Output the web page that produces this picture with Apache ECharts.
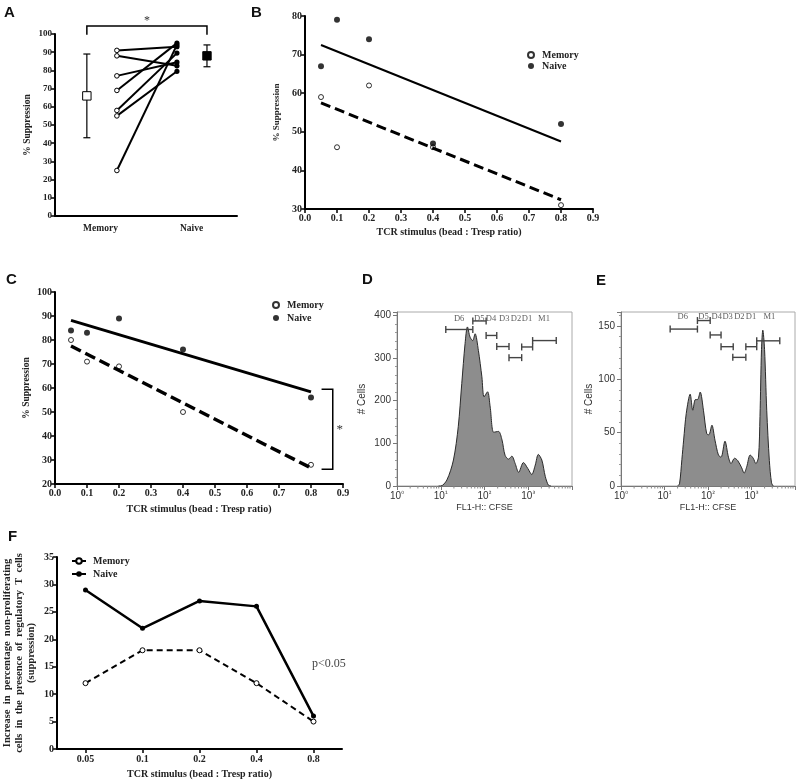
<!DOCTYPE html>
<html><head><meta charset="utf-8">
<script src="https://cdn.jsdelivr.net/npm/echarts@6/dist/echarts.min.js"></script>
<style>html,body{margin:0;padding:0;background:#fff}#c{width:800px;height:783px}</style>
</head><body><div id="c"></div>
<script>
// ---------- Panel A : paired % suppression ----------
const aCategories = ['Memory', 'Naive'];
const aPairMemory = [91, 88, 77, 69, 58, 55, 25];
const aPairNaive  = [93, 82.5, 84.5, 95, 89.5, 79.5, 94];
const aMean = [66, 88];
const aLow  = [43, 82];
const aHigh = [89, 94];

// ---------- Panel B ----------
const bDoses = [0.05, 0.1, 0.2, 0.4, 0.8];
const bMemory = [59, 46, 62, 46, 31];
const bNaive  = [67, 79, 74, 47, 52];
const bFitX = [0.05, 0.8];
const bMemoryFit = [57.5, 32.4];
const bNaiveFit  = [72.5, 47.5];

// ---------- Panel C ----------
const cDoses = [0.05, 0.1, 0.2, 0.4, 0.8];
const cMemory = [80, 71, 69, 50, 28];
const cNaive  = [84, 83, 89, 76, 56];
const cFitX = [0.05, 0.8];
const cMemoryFit = [77.5, 26.7];
const cNaiveFit  = [88.2, 58.4];

// ---------- Panel D : CFSE histogram (log10 FL1-H, # cells) ----------
const dLogCfse = [0.95, 1.0, 1.14, 1.29, 1.40, 1.48, 1.556, 1.61, 1.67, 1.73, 1.785, 1.86, 1.94, 1.99, 2.07, 2.13, 2.21, 2.32, 2.40, 2.47, 2.55, 2.625, 2.70, 2.78, 2.89, 2.99, 3.08, 3.16, 3.23, 3.31, 3.39, 3.46, 3.52];
const dCells   = [0, 0, 14, 61, 139, 240, 334, 373, 349, 341, 357, 318, 256, 209, 221, 185, 126, 128, 108, 72, 63, 70, 53, 32, 55, 41, 27, 49, 74, 61, 22, 2, 0];
const dGateNames = ['D6', 'D5', 'D4', 'D3', 'D2', 'D1', 'M1'];
const dGateFrom  = [1.115, 1.733, 2.037, 2.28, 2.56, 2.85, 3.10];
const dGateTo    = [1.733, 2.037, 2.28, 2.56, 2.85, 3.10, 3.64];
const dGateLevel = [367, 387, 353, 327, 301, 326, 341];
const dLabelLog  = [1.42, 1.88, 2.15, 2.45, 2.72, 2.97, 3.36];
const dLabelLevel = 392;

// ---------- Panel E ----------
const eLogCfse = [1.30, 1.345, 1.40, 1.44, 1.50, 1.59, 1.65, 1.71, 1.76, 1.82, 1.895, 1.97, 2.02, 2.09, 2.16, 2.24, 2.30, 2.39, 2.47, 2.53, 2.61, 2.68, 2.775, 2.83, 2.89, 2.97, 3.04, 3.10, 3.16, 3.195, 3.23, 3.26, 3.30, 3.35, 3.41, 3.46, 3.50];
const eCells   = [0, 2, 25, 43, 68, 86, 71, 81, 81, 88, 71, 49, 48, 57, 43, 29, 27, 42, 27, 21, 26, 24, 17, 12, 18, 29, 26, 21, 27, 65, 128, 146, 128, 71, 24, 3, 0];
const eGateNames = ['D6', 'D5', 'D4', 'D3', 'D2', 'D1', 'M1'];
const eGateFrom  = [1.13, 1.757, 2.05, 2.30, 2.57, 2.87, 3.12];
const eGateTo    = [1.757, 2.05, 2.30, 2.58, 2.87, 3.12, 3.65];
const eGateLevel = [147, 155, 141.5, 130.5, 120.5, 130.5, 136];
const eLabelLog  = [1.42, 1.895, 2.2, 2.45, 2.72, 2.99, 3.41];
const eLabelLevel = 159;

// ---------- Panel F ----------
const fCategories = ['0.05', '0.1', '0.2', '0.4', '0.8'];
const fMemory = [12, 18, 18, 12, 5];
const fNaive  = [29, 22, 27, 26, 6];

const SERIF = 'Liberation Serif';
const SANS = 'Liberation Sans';
const SUP = ['\u2070', '\u00b9', '\u00b2', '\u00b3'];

function boldAxisY(grid, min, max, interval, name, nameGap, fs, lfs) {
  return {
    type: 'value', gridIndex: grid, min: min, max: max, interval: interval,
    name: name, nameLocation: 'middle', nameGap: nameGap, nameRotate: 90,
    nameTextStyle: {fontFamily: SERIF, fontWeight: 'bold', fontSize: fs || 9.5, color: '#222', lineHeight: 12},
    axisLine: {show: true, lineStyle: {color: '#000', width: 2}},
    axisTick: {show: true, length: 4, lineStyle: {color: '#000', width: 1.5}},
    axisLabel: {fontFamily: SERIF, fontWeight: 'bold', fontSize: lfs || 10, color: '#222', margin: 3},
    splitLine: {show: false}
  };
}
function valueAxisX(grid, name) {
  return {
    type: 'value', gridIndex: grid, min: 0, max: 0.9, interval: 0.1,
    name: name, nameLocation: 'middle', nameGap: 18,
    nameTextStyle: {fontFamily: SERIF, fontWeight: 'bold', fontSize: 10, color: '#222'},
    axisLine: {show: true, onZero: false, lineStyle: {color: '#000', width: 2}},
    axisTick: {show: true, length: 4, lineStyle: {color: '#000', width: 1.5}},
    axisLabel: {fontFamily: SERIF, fontWeight: 'bold', fontSize: 10, color: '#222', margin: 4,
      formatter: v => v.toFixed(1)},
    splitLine: {show: false}
  };
}
function facsX(grid) {
  return {
    type: 'value', gridIndex: grid, min: 0, max: 4, interval: 1,
    name: 'FL1-H:: CFSE', nameLocation: 'middle', nameGap: 17,
    nameTextStyle: {fontFamily: SANS, fontSize: 9, color: '#333'},
    axisLine: {show: true, onZero: false, lineStyle: {color: '#777', width: 1}},
    axisTick: {show: true, length: 4, lineStyle: {color: '#777'}},
    axisLabel: {margin: 5, formatter: v => v < 4 ? '{b|10}{s|' + SUP[v] + '}' : '',
      rich: {b: {fontFamily: SANS, fontSize: 10, color: '#333'}, s: {fontFamily: 'DejaVu Sans', fontSize: 7, color: '#333', verticalAlign: 'top'}}},
    splitLine: {show: false}
  };
}
function facsY(grid, max, interval, nameGap) {
  return {
    type: 'value', gridIndex: grid, min: 0, max: max, interval: interval,
    name: '# Cells', nameLocation: 'middle', nameGap: nameGap, nameRotate: 90,
    nameTextStyle: {fontFamily: SANS, fontSize: 10, color: '#333'},
    axisLine: {show: true, lineStyle: {color: '#777', width: 1}},
    axisTick: {show: true, length: 4, lineStyle: {color: '#777'}},
    minorTick: {show: true, splitNumber: 5, length: 2, lineStyle: {color: '#999'}},
    axisLabel: {fontFamily: SANS, fontSize: 10, color: '#333', margin: 6,
      formatter: v => (v % interval === 0 ? v : '')},
    splitLine: {show: false}
  };
}

const chart = echarts.init(document.getElementById('c'), null, {renderer: 'canvas'});

// Panel A renderers
const A_OFF = {memSummary: -0.15, memPair: 0.18, naivePair: -0.16, naiveSummary: 0.17};
function pairRender(params, api) {
  const p0 = api.coord([0, api.value(1)]);
  const p1 = api.coord([1, api.value(2)]);
  const band = api.size([1, 0])[0];
  const x0 = p0[0] + A_OFF.memPair * band;
  const x1 = p1[0] + A_OFF.naivePair * band;
  return {type: 'group', children: [
    {type: 'line', shape: {x1: x0, y1: p0[1], x2: x1, y2: p1[1]}, style: {stroke: '#000', lineWidth: 2}},
    {type: 'circle', shape: {cx: x0, cy: p0[1], r: 2.3}, style: {fill: '#fff', stroke: '#000', lineWidth: 1}},
    {type: 'circle', shape: {cx: x1, cy: p1[1], r: 2.6}, style: {fill: '#000'}}
  ]};
}
function summaryRender(params, api) {
  const idx = api.value(0);
  const band = api.size([1, 0])[0];
  const off = idx === 0 ? A_OFF.memSummary : A_OFF.naiveSummary;
  const pm = api.coord([idx, api.value(1)]);
  const pl = api.coord([idx, api.value(2)]);
  const ph = api.coord([idx, api.value(3)]);
  const x = pm[0] + off * band;
  const cap = 3.5, half = 4.2;
  const st = {stroke: '#000', lineWidth: 1.2};
  return {type: 'group', children: [
    {type: 'line', shape: {x1: x, y1: pl[1], x2: x, y2: ph[1]}, style: st},
    {type: 'line', shape: {x1: x - cap, y1: pl[1], x2: x + cap, y2: pl[1]}, style: st},
    {type: 'line', shape: {x1: x - cap, y1: ph[1], x2: x + cap, y2: ph[1]}, style: st},
    {type: 'rect', shape: {x: x - half, y: pm[1] - half, width: 2 * half, height: 2 * half},
      style: {fill: idx === 0 ? '#fff' : '#000', stroke: '#000', lineWidth: 1}}
  ]};
}
function bracketARender(params, api) {
  const band = api.size([1, 0])[0];
  const l = api.coord([0, 104.4]);
  const r = api.coord([1, 104.4]);
  const lb = api.coord([0, 99.6]);
  const xl = l[0] + A_OFF.memSummary * band;
  const xr = r[0] + A_OFF.naiveSummary * band;
  const st = {stroke: '#000', lineWidth: 1.5, fill: null};
  return {type: 'group', children: [
    {type: 'polyline', shape: {points: [[xl, lb[1]], [xl, l[1]], [xr, l[1]], [xr, lb[1]]]}, style: st},
    {type: 'text', x: (xl + xr) / 2, y: l[1] + 1, style: {text: '*', font: '12px ' + SERIF, fill: '#333', textAlign: 'center', textVerticalAlign: 'bottom'}}
  ]};
}
function bracketCRender(params, api) {
  const t = api.coord([0.833, 59.5]);
  const tr = api.coord([0.868, 59.5]);
  const b = api.coord([0.833, 26.1]);
  const br = api.coord([0.868, 26.1]);
  return {type: 'group', children: [
    {type: 'polyline', shape: {points: [[t[0], t[1]], [tr[0], tr[1]], [br[0], br[1]], [b[0], b[1]]]}, style: {stroke: '#000', lineWidth: 1.5, fill: null}},
    {type: 'text', x: tr[0] + 7, y: (t[1] + b[1]) / 2, style: {text: '*', font: '13px ' + SERIF, fill: '#333', textAlign: 'center', textVerticalAlign: 'middle'}}
  ]};
}
function gateRender(params, api) {
  const a = api.coord([api.value(0), api.value(2)]);
  const b = api.coord([api.value(1), api.value(2)]);
  const h = 3.5;
  const st = {stroke: '#444', lineWidth: 1.4};
  return {type: 'group', children: [
    {type: 'line', shape: {x1: a[0], y1: a[1], x2: b[0], y2: b[1]}, style: st},
    {type: 'line', shape: {x1: a[0], y1: a[1] - h, x2: a[0], y2: a[1] + h}, style: st},
    {type: 'line', shape: {x1: b[0], y1: b[1] - h, x2: b[0], y2: b[1] + h}, style: st}
  ]};
}
function logMinorRender(params, api) {
  const d = api.value(0);
  const kids = [];
  for (let k = 2; k <= 9; k++) {
    const p = api.coord([d + Math.log10(k), 0]);
    kids.push({type: 'line', shape: {x1: p[0], y1: p[1], x2: p[0], y2: p[1] + 2.5}, style: {stroke: '#888', lineWidth: 1}});
  }
  return {type: 'group', children: kids};
}

function facsSeries(grid, logs, cells, gFrom, gTo, gLevel, names, labLog, labLevel) {
  return [
    {type: 'line', xAxisIndex: grid, yAxisIndex: grid, data: logs.map((x, i) => [x, cells[i]]),
      smooth: 0.3, symbol: 'none', lineStyle: {color: '#2a2a2a', width: 1},
      areaStyle: {color: '#8d8d8d', opacity: 1}, silent: true, z: 2},
    {type: 'custom', xAxisIndex: grid, yAxisIndex: grid, renderItem: gateRender,
      data: gFrom.map((f, i) => [f, gTo[i], gLevel[i]]), encode: {x: [0, 1], y: 2}, z: 3, silent: true},
    {type: 'scatter', xAxisIndex: grid, yAxisIndex: grid, symbolSize: 0, silent: true,
      data: names.map((n, i) => ({value: [labLog[i], labLevel], name: n})),
      label: {show: true, position: 'inside', formatter: p => p.name, fontFamily: SERIF, fontSize: 8.5, color: '#333'}},
    {type: 'custom', xAxisIndex: grid, yAxisIndex: grid, renderItem: logMinorRender,
      data: [[0, 0], [1, 0], [2, 0], [3, 0]], encode: {x: 0, y: 1}, silent: true}
  ];
}

const legendText = {fontFamily: SERIF, fontWeight: 'bold', fontSize: 10, color: '#222'};

const option = {
  animation: false,
  backgroundColor: '#fff',
  grid: [
    {left: 55, top: 34, width: 182, height: 182},
    {left: 305, top: 16, width: 288, height: 193},
    {left: 55, top: 292, width: 288, height: 192},
    {left: 397, top: 312, width: 175, height: 174, show: true, borderColor: '#aaa', borderWidth: 1},
    {left: 621, top: 312, width: 174, height: 174, show: true, borderColor: '#aaa', borderWidth: 1},
    {left: 54, top: 557, width: 288, height: 192}
  ],
  xAxis: [
    {type: 'category', gridIndex: 0, data: aCategories,
      axisLine: {lineStyle: {color: '#000', width: 2}}, axisTick: {show: false},
      axisLabel: {fontFamily: SERIF, fontWeight: 'bold', fontSize: 9.5, color: '#222', margin: 8}},
    valueAxisX(1, 'TCR stimulus (bead : Tresp ratio)'),
    Object.assign(valueAxisX(2, 'TCR stimulus (bead : Tresp ratio)'), {nameGap: 20}),
    facsX(3),
    facsX(4),
    {type: 'category', gridIndex: 5, data: fCategories, boundaryGap: true,
      name: 'TCR stimulus (bead : Tresp ratio)', nameLocation: 'middle', nameGap: 20,
      nameTextStyle: {fontFamily: SERIF, fontWeight: 'bold', fontSize: 10, color: '#222'},
      axisLine: {lineStyle: {color: '#000', width: 2}},
      axisTick: {show: true, alignWithLabel: true, length: 4, lineStyle: {color: '#000', width: 1.5}},
      axisLabel: {fontFamily: SERIF, fontWeight: 'bold', fontSize: 10, color: '#222', margin: 5}}
  ],
  yAxis: [
    boldAxisY(0, 0, 100, 10, '% Suppression', 21, 9.5, 9),
    boldAxisY(1, 30, 80, 10, '% Suppression', 22, 9, 10),
    boldAxisY(2, 20, 100, 10, '% Suppression', 22, 9.5, 10),
    facsY(3, 408, 100, 30),
    facsY(4, 163, 50, 27),
    boldAxisY(5, 0, 35, 5,
      'Increase  in  percentage  non-proliferating\ncells  in  the  presence  of  regulatory  T  cells\n(suppression)', 20, 10.5, 10)
  ],
  legend: [
    {left: 522, top: 45, orient: 'vertical', itemWidth: 6, itemHeight: 6, itemGap: 1, selectedMode: false,
      data: ['Memory|B', 'Naive|B'], formatter: n => n.split('|')[0],
      textStyle: Object.assign({padding: [0, 0, 0, 3], lineHeight: 10}, legendText)},
    {left: 267, top: 295, orient: 'vertical', itemWidth: 6, itemHeight: 6, itemGap: 3, selectedMode: false,
      data: ['Memory|C', 'Naive|C'], formatter: n => n.split('|')[0],
      textStyle: Object.assign({padding: [0, 0, 0, 3], lineHeight: 10}, legendText)},
    {left: 66, top: 551, orient: 'vertical', itemWidth: 14, itemHeight: 7, itemGap: 3, selectedMode: false,
      data: ['Memory|F', 'Naive|F'], formatter: n => n.split('|')[0],
      textStyle: Object.assign({padding: [0, 0, 0, 2], lineHeight: 10}, legendText)}
  ],
  graphic: [
    {type: 'text', left: 4, top: 5, style: {text: 'A', font: 'bold 15px ' + SANS, fill: '#111'}},
    {type: 'text', left: 251, top: 5, style: {text: 'B', font: 'bold 15px ' + SANS, fill: '#111'}},
    {type: 'text', left: 6, top: 272, style: {text: 'C', font: 'bold 15px ' + SANS, fill: '#111'}},
    {type: 'text', left: 362, top: 272, style: {text: 'D', font: 'bold 15px ' + SANS, fill: '#111'}},
    {type: 'text', left: 596, top: 273, style: {text: 'E', font: 'bold 15px ' + SANS, fill: '#111'}},
    {type: 'text', left: 8, top: 529, style: {text: 'F', font: 'bold 15px ' + SANS, fill: '#111'}},
    {type: 'text', left: 312, top: 658, style: {text: 'p<0.05', font: '12px ' + SERIF, fill: '#444'}}
  ],
  series: [
    // A
    {type: 'custom', xAxisIndex: 0, yAxisIndex: 0, renderItem: pairRender,
      data: aPairMemory.map((m, i) => [0, m, aPairNaive[i]]), encode: {x: 0, y: [1, 2]}, silent: true},
    {type: 'custom', xAxisIndex: 0, yAxisIndex: 0, renderItem: summaryRender,
      data: aCategories.map((c, i) => [i, aMean[i], aLow[i], aHigh[i]]), encode: {x: 0, y: [1, 2, 3]}, silent: true},
    {type: 'custom', xAxisIndex: 0, yAxisIndex: 0, renderItem: bracketARender, data: [[0, 100]], encode: {x: 0, y: 1}, silent: true},
    // B
    {type: 'line', xAxisIndex: 1, yAxisIndex: 1, data: bFitX.map((x, i) => [x, bMemoryFit[i]]), symbol: 'none',
      lineStyle: {color: '#000', width: 3, type: [10, 5]}, silent: true},
    {type: 'line', xAxisIndex: 1, yAxisIndex: 1, data: bFitX.map((x, i) => [x, bNaiveFit[i]]), symbol: 'none',
      lineStyle: {color: '#000', width: 2}, silent: true},
    {type: 'scatter', name: 'Memory|B', xAxisIndex: 1, yAxisIndex: 1, data: bDoses.map((x, i) => [x, bMemory[i]]),
      symbol: 'circle', symbolSize: 5, itemStyle: {color: '#fff', borderColor: '#000', borderWidth: 1}},
    {type: 'scatter', name: 'Naive|B', xAxisIndex: 1, yAxisIndex: 1, data: bDoses.map((x, i) => [x, bNaive[i]]),
      symbol: 'circle', symbolSize: 6, itemStyle: {color: '#000'}},
    // C
    {type: 'line', xAxisIndex: 2, yAxisIndex: 2, data: cFitX.map((x, i) => [x, cMemoryFit[i]]), symbol: 'none',
      lineStyle: {color: '#000', width: 3.5, type: [11, 5]}, silent: true},
    {type: 'line', xAxisIndex: 2, yAxisIndex: 2, data: cFitX.map((x, i) => [x, cNaiveFit[i]]), symbol: 'none',
      lineStyle: {color: '#000', width: 3}, silent: true},
    {type: 'scatter', name: 'Memory|C', xAxisIndex: 2, yAxisIndex: 2, data: cDoses.map((x, i) => [x, cMemory[i]]),
      symbol: 'circle', symbolSize: 5, itemStyle: {color: '#fff', borderColor: '#000', borderWidth: 1}},
    {type: 'scatter', name: 'Naive|C', xAxisIndex: 2, yAxisIndex: 2, data: cDoses.map((x, i) => [x, cNaive[i]]),
      symbol: 'circle', symbolSize: 6, itemStyle: {color: '#000'}},
    {type: 'custom', xAxisIndex: 2, yAxisIndex: 2, renderItem: bracketCRender, data: [[0.8, 40]], encode: {x: 0, y: 1}, silent: true},
    // D, E
    ...facsSeries(3, dLogCfse, dCells, dGateFrom, dGateTo, dGateLevel, dGateNames, dLabelLog, dLabelLevel),
    ...facsSeries(4, eLogCfse, eCells, eGateFrom, eGateTo, eGateLevel, eGateNames, eLabelLog, eLabelLevel),
    // F
    {type: 'line', name: 'Memory|F', xAxisIndex: 5, yAxisIndex: 5, data: fMemory,
      symbol: 'circle', symbolSize: 5, itemStyle: {color: '#fff', borderColor: '#000', borderWidth: 1},
      lineStyle: {color: '#000', width: 2, type: [6, 4]}},
    {type: 'line', name: 'Naive|F', xAxisIndex: 5, yAxisIndex: 5, data: fNaive,
      symbol: 'circle', symbolSize: 5, itemStyle: {color: '#000'},
      lineStyle: {color: '#000', width: 2.5}}
  ]
};
chart.setOption(option);
</script>
</body></html>
